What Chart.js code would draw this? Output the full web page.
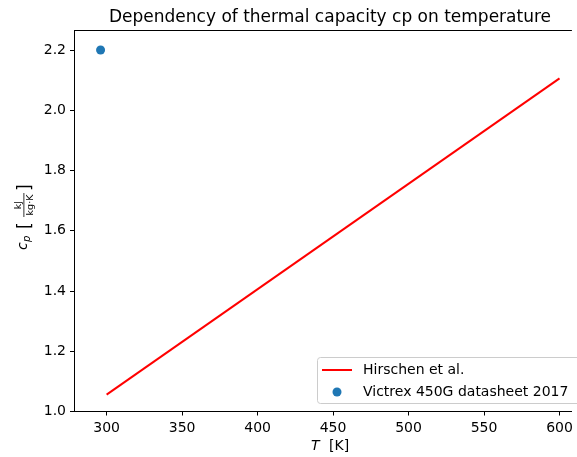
<!DOCTYPE html>
<html>
<head>
<meta charset="utf-8">
<script src="https://cdn.jsdelivr.net/npm/chart.js@4"></script>
<style>
  html, body { margin: 0; padding: 0; background: #fff; }
  #wrap { width: 577px; height: 457px; }
</style>
</head>
<body>
<div id="wrap"><canvas id="c" width="577" height="457"></canvas></div>
<script>
// --- data ---
const hirschenT = [300, 600];
const hirschenCp = [1.056, 2.106];
const victrexT = [296];
const victrexCp = [2.2];
const xTicks = [300, 350, 400, 450, 500, 550, 600];
const yTicks = [1.0, 1.2, 1.4, 1.6, 1.8, 2.0, 2.2];

const FONT = "'DejaVu Sans', sans-serif";

// frame, legend and axis titles drawn the matplotlib way
const decor = {
  id: 'decor',
  afterDraw(chart) {
    const { ctx, chartArea: a } = chart;
    ctx.save();
    // top spine
    ctx.strokeStyle = '#000';
    ctx.lineWidth = 1;
    ctx.beginPath();
    ctx.moveTo(a.left, a.top + 0.5);
    ctx.lineTo(a.right, a.top + 0.5);
    ctx.stroke();

    // legend box
    const bx = 317.5, by = 357.5, bw = 270, bh = 46;
    ctx.fillStyle = 'rgba(255,255,255,0.8)';
    ctx.strokeStyle = '#cccccc';
    ctx.beginPath();
    ctx.roundRect(bx, by, bw, bh, 3);
    ctx.fill();
    ctx.stroke();
    ctx.strokeStyle = 'red';
    ctx.lineWidth = 2;
    ctx.beginPath();
    ctx.moveTo(322, 370);
    ctx.lineTo(352, 370);
    ctx.stroke();
    ctx.fillStyle = '#1f77b4';
    ctx.beginPath();
    ctx.arc(337, 392, 4.5, 0, Math.PI * 2);
    ctx.fill();
    ctx.fillStyle = '#000';
    ctx.font = '14px ' + FONT;
    ctx.textBaseline = 'middle';
    ctx.fillText('Hirschen et al.', 363, 370);
    ctx.fillText('Victrex 450G datasheet 2017', 363, 392);

    // x title
    ctx.textBaseline = 'alphabetic';
    ctx.textAlign = 'left';
    ctx.font = 'italic 14px ' + FONT;
    ctx.fillText('T', 311, 450);
    ctx.font = '14px ' + FONT;
    ctx.fillText('[K]', 329, 450);

    // y title: c_p [kJ / kg·K]
    ctx.translate(24, 216);
    ctx.rotate(-Math.PI / 2);
    ctx.textAlign = 'left';
    ctx.font = 'italic 14px ' + FONT;
    ctx.fillText('c', -34, 3);
    ctx.font = 'italic 10px ' + FONT;
    ctx.fillText('p', -26, 6);
    ctx.font = '17px ' + FONT;
    ctx.fillText('[', -13, 6);
    ctx.font = '9.5px ' + FONT;
    ctx.textAlign = 'center';
    ctx.fillText('kJ', 11, -3);
    ctx.fillText('kg\u00b7K', 11, 8.5);
    ctx.fillRect(-1, -0.5, 24, 0.8);
    ctx.font = '17px ' + FONT;
    ctx.textAlign = 'left';
    ctx.fillText(']', 25, 6);
    ctx.restore();
  }
};

new Chart(document.getElementById('c'), {
  type: 'scatter',
  data: {
    datasets: [
      {
        label: 'Hirschen et al.',
        type: 'line',
        data: hirschenT.map((t, i) => ({ x: t, y: hirschenCp[i] })),
        borderColor: 'red',
        borderWidth: 2,
        pointRadius: 0,
        fill: false
      },
      {
        label: 'Victrex 450G datasheet 2017',
        data: victrexT.map((t, i) => ({ x: t, y: victrexCp[i] })),
        backgroundColor: '#1f77b4',
        borderWidth: 0,
        pointRadius: 4.5
      }
    ]
  },
  options: {
    responsive: false,
    animation: false,
    layout: { padding: { left: 0, right: 0, top: 30, bottom: 0 } },
    plugins: {
      legend: { display: false },
      tooltip: { enabled: false },
      title: { display: false }
    },
    scales: {
      x: {
        type: 'linear',
        min: 278.4,
        max: 608.2,
        afterBuildTicks: s => { s.ticks = xTicks.map(v => ({ value: v })); },
        afterFit: s => { s.height = 45.5; },
        grid: { drawOnChartArea: false, tickLength: 4, tickColor: '#000' },
        border: { color: '#000', width: 1 },
        ticks: { color: '#000', font: { family: FONT, size: 14 }, padding: 4, maxRotation: 0 }
      },
      y: {
        min: 1.0,
        max: 2.2665,
        afterBuildTicks: s => { s.ticks = yTicks.map(v => ({ value: v })); },
        afterFit: s => { s.width = 74; },
        grid: { drawOnChartArea: false, tickLength: 4, tickColor: '#000' },
        border: { color: '#000', width: 1 },
        ticks: {
          color: '#000', font: { family: FONT, size: 14 }, padding: 4,
          callback: v => v.toFixed(1)
        }
      }
    }
  },
  plugins: [decor, {
    id: 'title',
    afterDraw(chart) {
      const { ctx } = chart;
      ctx.save();
      ctx.fillStyle = '#000';
      ctx.font = '17px ' + FONT;
      ctx.textAlign = 'center';
      ctx.textBaseline = 'alphabetic';
      // the reference axes run past the right edge, so its centre sits a bit right
      ctx.fillText('Dependency of thermal capacity cp on temperature', 330, 22);
      ctx.restore();
    }
  }]
});
</script>
</body>
</html>
